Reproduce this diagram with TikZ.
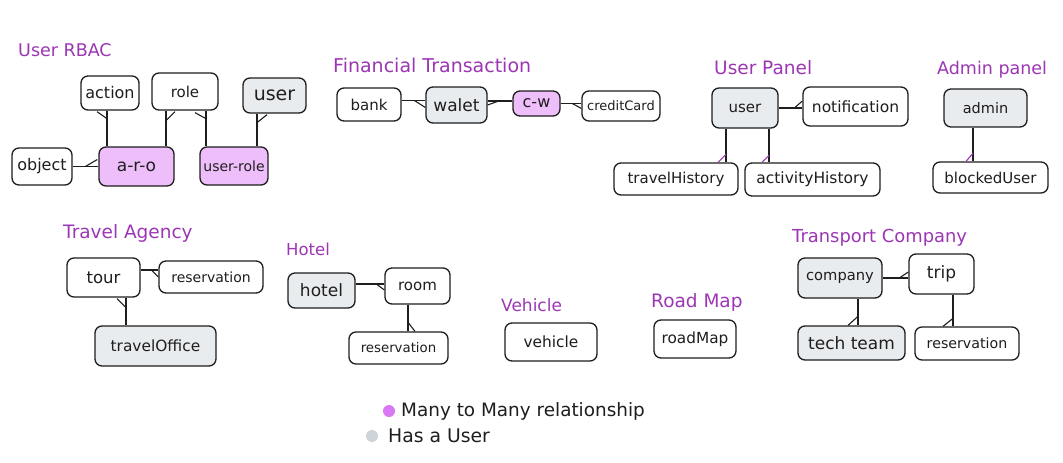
\documentclass[tikz,border=0pt]{standalone}
\usepackage{fontspec}
\setmainfont{DejaVu Sans}
\usetikzlibrary{calc}
\definecolor{ttl}{HTML}{9C36B5}
\definecolor{grayfill}{HTML}{E9ECEF}
\definecolor{pinkfill}{HTML}{EEBEFA}
\definecolor{ink}{HTML}{1E1E1E}
\definecolor{pinkdot}{HTML}{DA77F2}
\definecolor{graydot}{HTML}{CED4DA}
\newcommand{\fsz}[1]{\fontsize{#1}{#1}\selectfont}
\newcommand{\ebox}[8]{%
  \node[#1, minimum width={#5pt-#3pt}, minimum height={#6pt-#4pt}, font=\fsz{#7}] (#2) at ({(#3+#5)/2},{(#4+#6)/2}) {#8};}
\tikzset{
  ent/.style={draw=ink, line width=1.3pt, rounded corners=7pt, fill=white, inner sep=0pt, text=ink},
  gent/.style={ent, fill=grayfill},
  pent/.style={ent, fill=pinkfill},
  ttlnode/.style={text=ttl, anchor=west, inner sep=0pt, font=\fsz{17.5}},
  legtext/.style={text=ink, anchor=west, inner sep=0pt, font=\fsz{18.4}},
  conn/.style={draw=ink, line width=1.3pt},
  tick/.style={draw=ink, line width=1.1pt},
  ptick/.style={draw=ttl, line width=1.1pt},
  dot/.style={circle, inner sep=0pt, minimum size=12pt},
}
\begin{document}
\begin{tikzpicture}[x=1pt,y=-1pt]
\useasboundingbox (0,0) rectangle (1063,463);
\fill[white] (0,0) rectangle (1063,463);

% ---------- titles
\node[ttlnode] (tRBAC) at (18,50) {User RBAC};
\node[ttlnode, font=\fsz{19}] (tFin) at (333,65) {Financial Transaction};
\node[ttlnode, font=\fsz{18.5}] (tUP) at (714,68) {User Panel};
\node[ttlnode] (tAP) at (937,70) {Admin panel};
\node[ttlnode, font=\fsz{18.5}] (tTA) at (63,233) {Travel Agency};
\node[ttlnode, font=\fsz{16.5}] (tHotel) at (286,249) {Hotel};
\node[ttlnode, font=\fsz{17}] (tVeh) at (501,305) {Vehicle};
\node[ttlnode, font=\fsz{18.5}] (tRoad) at (651,302) {Road Map};
\node[ttlnode, font=\fsz{17.9}] (tTC) at (792,238) {Transport Company};

% ---------- User RBAC
\ebox{ent}{action}{81}{76}{139}{110}{16}{action}
\ebox{ent}{role}{152}{73}{218}{110}{15}{role}
\ebox{gent}{userA}{243}{78}{306}{113}{19}{user}
\ebox{ent}{object}{12}{148}{72}{185}{16}{object}
\ebox{pent}{aro}{99}{147}{174}{186}{17}{a-r-o}
\ebox{pent}{userrole}{200}{147}{268}{185}{14}{user-role}

% ---------- Financial Transaction
\ebox{ent}{bank}{337}{88}{401}{121}{15}{bank}
\ebox{gent}{walet}{426}{87}{487}{123}{17}{walet}
\ebox{pent}{cw}{513}{91}{560}{116}{16}{c-w}
\ebox{ent}{credit}{582}{91}{660}{121}{13}{creditCard}

% ---------- User Panel / Admin panel
\ebox{gent}{userP}{712}{88}{778}{128}{15}{user}
\ebox{ent}{notif}{803}{87}{908}{126}{15.5}{notification}
\ebox{ent}{travelH}{614}{163}{738}{195}{15}{travelHistory}
\ebox{ent}{activityH}{745}{163}{880}{196}{15.5}{activityHistory}
\ebox{gent}{admin}{944}{89}{1027}{127}{14.5}{admin}
\ebox{ent}{blocked}{933}{162}{1048}{193}{15}{blockedUser}

% ---------- Travel Agency
\ebox{ent}{tour}{67}{258}{140}{297}{16.5}{tour}
\ebox{ent}{resTA}{159}{261}{263}{293}{14}{reservation}
\ebox{gent}{office}{95}{326}{216}{366}{15.4}{travelOffice}

% ---------- Hotel
\ebox{gent}{hotel}{288}{273}{355}{308}{17}{hotel}
\ebox{ent}{room}{385}{268}{450}{304}{15}{room}
\ebox{ent}{resH}{349}{332}{448}{364}{13.3}{reservation}

% ---------- Vehicle / Road Map
\ebox{ent}{vehicle}{505}{323}{597}{361}{15.4}{vehicle}
\ebox{ent}{roadMap}{654}{320}{736}{358}{15.3}{roadMap}

% ---------- Transport Company
\ebox{gent}{company}{798}{258}{882}{298}{14.7}{company}
\ebox{ent}{trip}{909}{254}{974}{294}{17}{trip}
\ebox{gent}{tech}{798}{326}{905}{360}{17}{tech team}
\ebox{ent}{resTC}{915}{327}{1019}{360}{14.2}{reservation}

% ---------- connectors: User RBAC
\path (action.south) ++(-3,0) coordinate (p1);
\draw[conn] (p1) -- (p1 |- aro.north);
\draw[tick] ($(p1)+(-10,1)$) -- ($(p1)+(0,8)$);

\path (role.south) ++(-19,0) coordinate (p2);
\draw[conn] (p2) -- (p2 |- aro.north);
\draw[tick] ($(p2)+(9,1)$) -- ($(p2)+(0,10)$);

\path (role.south) ++(21,0) coordinate (p3);
\draw[conn] (p3) -- (p3 |- userrole.north);
\draw[tick] ($(p3)+(-11,2)$) -- ($(p3)+(0,8)$);

\path (userA.south) ++(-17.5,0) coordinate (p4);
\draw[conn] (p4) -- (p4 |- userrole.north);
\draw[tick] ($(p4)+(10,1)$) -- ($(p4)+(0,9)$);

\path (aro.west |- object.east) coordinate (p5);
\draw[conn] (object.east) -- (p5);
\draw[tick] ($(p5)+(-1,-7)$) -- ($(p5)+(-13,0)$);

% ---------- connectors: Financial
\path (bank.east) ++(0,-4) coordinate (p6);
\draw[conn] (p6) -- (p6 -| walet.west);
\draw[tick] ($(p6 -| walet.west)+(-11,0)$) -- ($(p6 -| walet.west)+(0,7)$);

\path (walet.east) ++(0,-4) coordinate (p7);
\draw[conn] (p7) -- (p7 -| cw.west);
\draw[tick] ($(p7)+(0,4)$) -- ($(p7)+(11,0)$);

\path (cw.east -| credit.west) coordinate (p8);
\draw[conn] (cw.east) -- (p8);
\draw[tick] ($(p8)+(-9,0)$) -- ($(p8)+(0,5)$);

% ---------- connectors: User Panel / Admin
\path (userP.east -| notif.west) coordinate (p9);
\draw[conn] (userP.east) -- (p9);
\draw[tick] ($(p9)+(-8,0)$) -- ($(p9)+(0,-7)$);

\path (userP.south) ++(-19,0) coordinate (p10);
\draw[conn] (p10) -- (p10 |- travelH.north);
\draw[ptick] ($(p10 |- travelH.north)+(-8,0)$) -- ($(p10 |- travelH.north)+(0,-8)$);

\path (userP.south) ++(24,0) coordinate (p11);
\draw[conn] (p11) -- (p11 |- activityH.north);
\draw[ptick] ($(p11 |- activityH.north)+(-7,0)$) -- ($(p11 |- activityH.north)+(0,-7)$);

\path (admin.south) ++(-12.5,0) coordinate (p12);
\draw[conn] (p12) -- (p12 |- blocked.north);
\draw[ptick] ($(p12 |- blocked.north)+(-7,0)$) -- ($(p12 |- blocked.north)+(0,-8)$);

% ---------- connectors: Travel Agency
\path (tour.east) ++(0,-7.5) coordinate (p13);
\draw[conn] (p13) -- (p13 -| resTA.west);
\draw[tick] ($(p13 -| resTA.west)+(-7,0)$) -- ($(p13 -| resTA.west)+(0,7)$);

\path (tour.south) ++(22.5,0) coordinate (p14);
\draw[conn] (p14) -- (p14 |- office.north);
\draw[tick] ($(p14)+(-9,1)$) -- ($(p14)+(0,10)$);

% ---------- connectors: Hotel
\path (hotel.east) ++(0,-6.5) coordinate (p15);
\draw[conn] (p15) -- (p15 -| room.west);
\draw[tick] ($(p15 -| room.west)+(-8,0)$) -- ($(p15 -| room.west)+(0,6)$);

\path (room.south) ++(-9.5,0) coordinate (p16);
\draw[conn] (p16) -- (p16 |- resH.north);
\draw[tick] ($(p16 |- resH.north)+(0,-9)$) -- ($(p16 |- resH.north)+(7,0)$);

% ---------- connectors: Transport Company
\path (company.east -| trip.west) coordinate (p17);
\draw[conn] (company.east) -- (p17);
\draw[tick] ($(p17)+(-9,0)$) -- ($(p17)+(0,-6)$);

\path (company.south) ++(18,0) coordinate (p18);
\draw[conn] (p18) -- (p18 |- tech.north);
\draw[tick] ($(p18 |- tech.north)+(-10,0)$) -- ($(p18 |- tech.north)+(0,-9)$);

\path (trip.south) ++(11.5,0) coordinate (p19);
\draw[conn] (p19) -- (p19 |- resTC.north);
\draw[tick] ($(p19 |- resTC.north)+(-10,0)$) -- ($(p19 |- resTC.north)+(0,-8)$);

% ---------- legend
\node[dot, fill=pinkdot] (dot1) at (389,411) {};
\node[legtext] (leg1) at (401,411) {Many to Many relationship};
\node[dot, fill=graydot] (dot2) at (372,436) {};
\node[legtext, font=\fsz{18.8}] (leg2) at (388,436) {Has a User};
\end{tikzpicture}
\end{document}
